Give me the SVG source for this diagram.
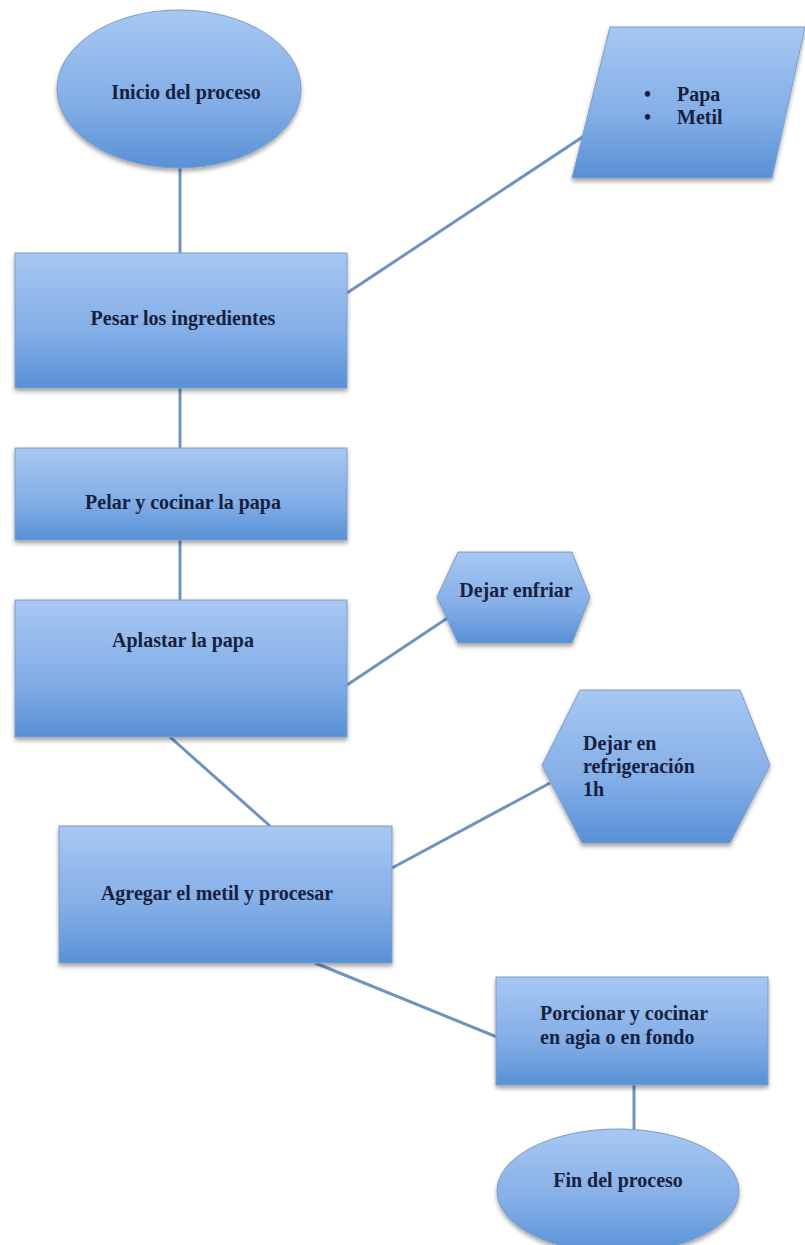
<svg xmlns="http://www.w3.org/2000/svg" width="805" height="1245" viewBox="0 0 805 1245">
<defs>
<linearGradient id="g" x1="0" y1="0" x2="0" y2="1">
<stop offset="0" stop-color="#a7c8f3"/>
<stop offset="0.6" stop-color="#82ade6"/>
<stop offset="1" stop-color="#5891d6"/>
</linearGradient>
<filter id="sh" x="-10%" y="-10%" width="120%" height="125%">
<feDropShadow dx="0" dy="3" stdDeviation="2" flood-color="#000" flood-opacity="0.35"/>
</filter>
<style>
.n{fill:url(#g);stroke:#7c9cc8;stroke-width:1;filter:url(#sh)}
.t{font-family:"Liberation Serif","DejaVu Serif",serif;font-size:20px;fill:#17213f;font-weight:bold}
.c{stroke:#6f93bf;stroke-width:3;fill:none}
</style>
</defs>
<rect width="805" height="1245" fill="#fff"/>
<g id="connectors">
<line class="c" x1="180" y1="168" x2="180" y2="253"/>
<line class="c" x1="347" y1="293" x2="584" y2="136"/>
<line class="c" x1="180" y1="388" x2="180" y2="448"/>
<line class="c" x1="180" y1="540" x2="180" y2="600"/>
<line class="c" x1="347" y1="685" x2="452" y2="615"/>
<line class="c" x1="170" y1="737" x2="270" y2="826"/>
<line class="c" x1="392" y1="868" x2="550" y2="783"/>
<line class="c" x1="315" y1="963" x2="497" y2="1037"/>
<line class="c" x1="634" y1="1085" x2="634" y2="1130"/>
</g>
<g id="inicio">
<ellipse class="n" cx="179" cy="89" rx="122" ry="79"/>
<text class="t" x="186" y="99" text-anchor="middle">Inicio del proceso</text>
</g>
<g id="ingredientes">
<polygon class="n" points="610,27 805,27 772,178 572,178"/>
<text class="t" x="644" y="101">•</text>
<text class="t" x="677" y="101">Papa</text>
<text class="t" x="644" y="124">•</text>
<text class="t" x="677" y="124">Metil</text>
</g>
<g id="pesar">
<rect class="n" x="15" y="253" width="332" height="135"/>
<text class="t" x="183" y="325" text-anchor="middle">Pesar los ingredientes</text>
</g>
<g id="pelar">
<rect class="n" x="15" y="448" width="332" height="92"/>
<text class="t" x="183" y="509" text-anchor="middle">Pelar y cocinar la papa</text>
</g>
<g id="aplastar">
<rect class="n" x="15" y="600" width="332" height="137"/>
<text class="t" x="183" y="647" text-anchor="middle">Aplastar la papa</text>
</g>
<g id="enfriar">
<polygon class="n" points="437,597 458,552 572,552 590,597 572,643 458,643"/>
<text class="t" x="516" y="597" text-anchor="middle">Dejar enfriar</text>
</g>
<g id="agregar">
<rect class="n" x="59" y="826" width="333" height="137"/>
<text class="t" x="217" y="900" text-anchor="middle">Agregar el metil y procesar</text>
</g>
<g id="refrigeracion">
<polygon class="n" points="542,765 580,690 740,690 770,765 730,843 582,843"/>
<text class="t" x="583" y="750">Dejar en</text>
<text class="t" x="583" y="773">refrigeración</text>
<text class="t" x="583" y="796">1h</text>
</g>
<g id="porcionar">
<rect class="n" x="496" y="977" width="272" height="108"/>
<text class="t" x="540" y="1020">Porcionar y cocinar</text>
<text class="t" x="540" y="1044">en agia o en fondo</text>
</g>
<g id="fin">
<ellipse class="n" cx="618" cy="1191" rx="121" ry="62"/>
<text class="t" x="618" y="1187" text-anchor="middle">Fin del proceso</text>
</g>
</svg>
